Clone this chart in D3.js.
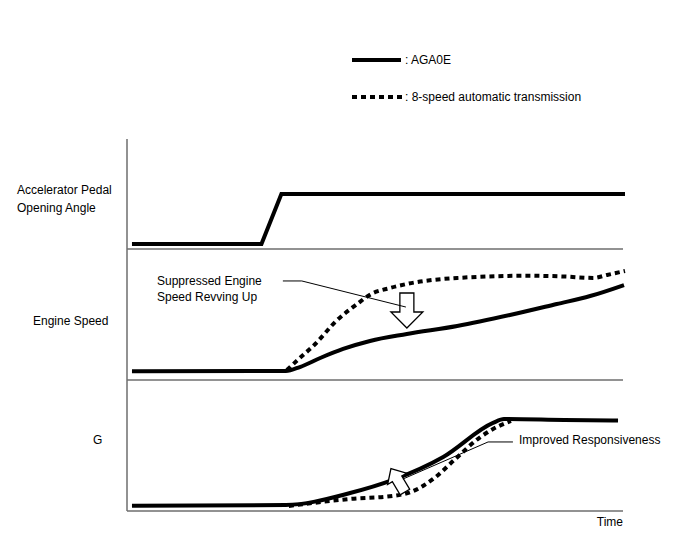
<!DOCTYPE html>
<html>
<head>
<meta charset="utf-8">
<script src="https://cdn.jsdelivr.net/npm/d3@7"></script>
<style>
body { margin: 0; background: #fff; }
text { font-family: "Liberation Sans", Arial, sans-serif; font-size: 12px; fill: #000; }
</style>
</head>
<body>
<svg id="chart" width="688" height="560"></svg>
<script>
// time in seconds-ish units, values in % of panel height
let pedalT = [0.1, 2.7, 3.1, 10.0]
let pedalV = [4.5, 4.5, 50, 50]

let speedAgaT = [0.1, 3.19, 3.47, 3.88, 4.34, 4.88, 5.62, 6.63, 7.69, 8.63, 9.30, 9.98]
let speedAgaV = [6.6, 6.9, 9.9, 16.8, 23.7, 29.8, 35.1, 41.2, 49.6, 58.0, 64.1, 72.5]
let speed8T = [3.21, 3.47, 3.76, 4.20, 4.62, 4.90, 5.28, 5.62, 6.63, 8.07, 8.78, 9.36, 9.64, 10.0]
let speed8V = [7.6, 16.8, 26.7, 45.0, 58.0, 65.6, 70.2, 73.3, 77.9, 79.6, 79.0, 77.9, 80.2, 83.2]

let gAgaT = [0.1, 3.19, 4.48, 5.34, 6.35, 7.35, 7.57, 8.78, 9.86]
let gAgaV = [4.0, 4.6, 13.7, 23.7, 41.2, 67.2, 70.2, 69.5, 69.1]
let g8T = [3.25, 4.48, 5.34, 5.70, 6.20, 6.57, 7.07, 7.35, 7.71]
let g8V = [3.8, 9.2, 11.5, 14.5, 26.0, 38.9, 55.7, 62.6, 68.7]

let panelLabels = [["Accelerator Pedal", "Opening Angle"], ["Engine Speed"], ["G"]]
let legendLabels = [": AGA0E", ": 8-speed automatic transmission"]

var svg = d3.select("#chart")
var axisColor = "#6e6e6e"
var dash = "5,4"

var x = d3.scaleLinear().domain([0, 10]).range([127, 625])
// three stacked panels
var panels = [
    { top: 139, bottom: 249 },
    { top: 249, bottom: 380 },
    { top: 380, bottom: 511 }
]
var ys = panels.map(function(p){
    return d3.scaleLinear().domain([0, 100]).range([p.bottom, p.top])
})

function pts(ts, vs){
    return ts.map(function(t, i){ return [t, vs[i]] })
}

// axes
svg.append("line")
    .attr("x1", x(0)).attr("x2", x(0))
    .attr("y1", panels[0].top).attr("y2", panels[2].bottom)
    .attr("stroke", axisColor).attr("stroke-width", 1.5)
panels.forEach(function(p){
    svg.append("line")
        .attr("x1", x(0)).attr("x2", x(9.96))
        .attr("y1", p.bottom).attr("y2", p.bottom)
        .attr("stroke", axisColor).attr("stroke-width", 1.5)
})

// panel labels
var labelX = [17, 33, 93]
var labelY = [194, 325, 444]
panelLabels.forEach(function(lines, i){
    lines.forEach(function(s, j){
        svg.append("text").attr("x", labelX[i]).attr("y", labelY[i] + j * 18).text(s)
    })
})
svg.append("text").attr("x", x(9.96)).attr("y", 526).attr("text-anchor", "end").text("Time")

function drawLine(data, yScale, dotted, curve){
    var line = d3.line()
        .x(function(d){ return x(d[0]) })
        .y(function(d){ return yScale(d[1]) })
        .curve(curve || d3.curveMonotoneX)
    svg.append("path")
        .datum(data)
        .attr("fill", "none")
        .attr("stroke", "#000")
        .attr("stroke-width", 4)
        .attr("stroke-dasharray", dotted ? dash : null)
        .attr("d", line)
}

drawLine(pts(pedalT, pedalV), ys[0], false, d3.curveLinear)
drawLine(pts(speed8T, speed8V), ys[1], true)
drawLine(pts(speedAgaT, speedAgaV), ys[1], false)
drawLine(pts(g8T, g8V), ys[2], true)
drawLine(pts(gAgaT, gAgaV), ys[2], false)

// hollow arrow from base to tip
function arrow(bx, by, tx, ty, shaftW, headW, headL){
    var dx = tx - bx, dy = ty - by
    var len = Math.sqrt(dx*dx + dy*dy)
    var ux = dx/len, uy = dy/len, nx = -uy, ny = ux
    var hx = tx - ux*headL, hy = ty - uy*headL
    var p = [
        [bx + nx*shaftW, by + ny*shaftW],
        [hx + nx*shaftW, hy + ny*shaftW],
        [hx + nx*headW, hy + ny*headW],
        [tx, ty],
        [hx - nx*headW, hy - ny*headW],
        [hx - nx*shaftW, hy - ny*shaftW],
        [bx - nx*shaftW, by - ny*shaftW]
    ]
    svg.append("path")
        .attr("d", "M" + p.join("L") + "Z")
        .attr("fill", "#fff").attr("stroke", "#000").attr("stroke-width", 1.3)
}

function leader(points, yScale){
    svg.append("path")
        .attr("d", d3.line()(points.map(function(d){ return [x(d[0]), yScale(d[1])] })))
        .attr("fill", "none").attr("stroke", "#000").attr("stroke-width", 1)
}

// engine speed annotation
arrow(x(5.62), ys[1](66.4), x(5.62), ys[1](39.7), 7, 16, 16)
leader([[3.13, 75.6], [3.51, 75.6], [5.60, 55.7]], ys[1])
svg.append("text").attr("x", 157).attr("y", 285).text("Suppressed Engine")
svg.append("text").attr("x", 157).attr("y", 301).text("Speed Revving Up")

// G annotation
arrow(x(5.58), ys[2](14.5), x(5.30), ys[2](32.4), 5.5, 11, 12)
leader([[7.75, 52.7], [7.25, 52.7], [5.54, 24.4]], ys[2])
svg.append("text").attr("x", 519).attr("y", 444).text("Improved Responsiveness")

// legend
svg.append("line").attr("x1", 352).attr("x2", 401).attr("y1", 60).attr("y2", 60)
    .attr("stroke", "#000").attr("stroke-width", 4)
svg.append("line").attr("x1", 352).attr("x2", 403).attr("y1", 97).attr("y2", 97)
    .attr("stroke", "#000").attr("stroke-width", 4).attr("stroke-dasharray", dash)
svg.append("text").attr("x", 405).attr("y", 64).text(legendLabels[0])
svg.append("text").attr("x", 405).attr("y", 101).text(legendLabels[1])
</script>
</body>
</html>
